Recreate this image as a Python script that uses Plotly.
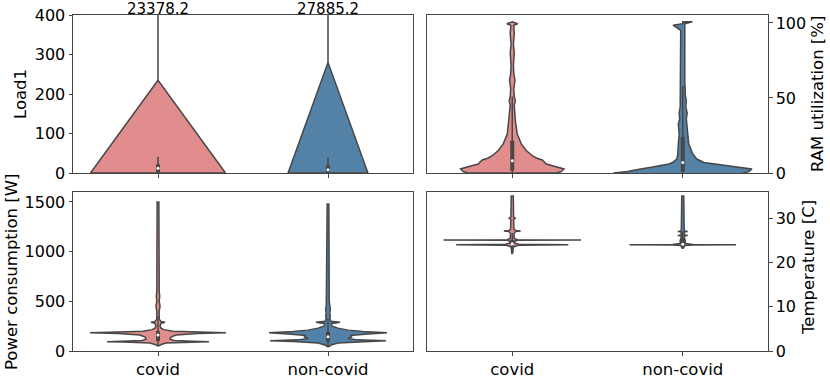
import numpy as np
import plotly.graph_objects as go

groups = ["covid", "non-covid"]
fill_colors = ["#E28D8D", "#5481A6"]
edge = "#474747"

# violin outlines: value -> half width (in category units)
load_y = [[0, 235, 23378.2], [0, 280, 27885.2]]
load_w = [[0.397, 0, 0], [0.235, 0, 0]]
load_max = [23378.2, 27885.2]

ram_y = [
    [0, 1, 2.7, 4, 6, 8.7, 10, 11.5, 15, 19.4, 26, 35, 41.5, 45, 48, 51, 56, 62, 66, 72, 80, 86, 93, 97, 98.5, 99.5, 100.8],
    [0, 1, 2.7, 4, 4.9, 6, 7, 9.3, 12.7, 19.4, 26, 32.8, 36, 40, 44, 48, 52, 55, 60, 70, 80, 90, 95, 98.5, 99.5, 100.8],
]
ram_w = [
    [0.259, 0.288, 0.303, 0.265, 0.2, 0.176, 0.141, 0.118, 0.082, 0.053, 0.029, 0.018, 0.015, 0.012, 0.018, 0.012,
     0.009, 0.016, 0.009, 0.007, 0.012, 0.007, 0.012, 0.009, 0.009, 0.032, 0],
    [0.353, 0.388, 0.406, 0.324, 0.247, 0.176, 0.124, 0.082, 0.059, 0.035, 0.029, 0.026, 0.021, 0.026, 0.018, 0.021,
     0.015, 0.015, 0.012, 0.012, 0.012, 0.012, 0.015, 0.012, 0.012, 0.057, 0],
]

power_y = [
    [50, 65, 80, 90, 94, 98, 105, 120, 140, 160, 175, 184, 190, 200, 215, 230, 250, 280, 289, 298, 320, 400, 450, 500,
     550, 600, 700, 800, 1000, 1500],
    [40, 60, 80, 95, 104, 112, 125, 140, 155, 170, 184, 195, 210, 230, 250, 275, 289, 300, 330, 350, 380, 420, 460,
     500, 700, 1000, 1300, 1480],
]
power_w = [
    [0.003, 0.018, 0.047, 0.206, 0.3, 0.206, 0.094, 0.071, 0.076, 0.106, 0.235, 0.4, 0.235, 0.088, 0.035, 0.018, 0.012,
     0.018, 0.041, 0.018, 0.007, 0.007, 0.012, 0.007, 0.01, 0.007, 0.007, 0.007, 0.005, 0.005],
    [0.003, 0.018, 0.059, 0.206, 0.341, 0.176, 0.118, 0.141, 0.129, 0.235, 0.347, 0.206, 0.118, 0.059, 0.024, 0.018,
     0.071, 0.018, 0.01, 0.014, 0.01, 0.014, 0.01, 0.007, 0.007, 0.007, 0.006, 0.005],
]

temp_y = [
    [22, 23.5, 23.9, 24.0, 24.1, 24.4, 24.8, 24.98, 25.06, 25.14, 25.4, 26.5, 27.0, 27.1, 27.2, 27.5, 29.7, 30, 30.3, 35],
    [23.2, 23.8, 23.93, 24.0, 24.07, 24.3, 25, 25.5, 26.0, 26.1, 26.2, 26.9, 27.0, 27.1, 28, 35],
]
temp_w = [
    [0.003, 0.006, 0.04, 0.329, 0.04, 0.012, 0.015, 0.03, 0.403, 0.03, 0.012, 0.01, 0.02, 0.049, 0.02, 0.01,
     0.008, 0.018, 0.008, 0.006],
    [0.003, 0.012, 0.06, 0.312, 0.06, 0.015, 0.015, 0.01, 0.01, 0.029, 0.01, 0.01, 0.029, 0.01, 0.008, 0.006],
]

# inner box: whisker low, q1, median, q3, whisker high
load_box = [[0, 2, 11.8, 22, 41], [0, 2, 8, 20, 39]]
ram_box = [[0, 1.5, 8.2, 21.5, 51], [0, 1, 7, 24, 58]]
power_box = [[50, 100, 160, 200, 350], [40, 95, 144, 195, 330]]
temp_box = [[22.5, 24, 24.2, 25.1, 26.6], [23.2, 24, 24.1, 25.5, 27]]

fig = go.Figure()


def add_violins(ys, ws, boxes, xa, ya):
    for i in range(2):
        y = np.array(ys[i], dtype=float)
        w = np.array(ws[i], dtype=float)
        xs = np.concatenate([i + w, (i - w)[::-1], [i + w[0]]])
        yy = np.concatenate([y, y[::-1], [y[0]]])
        fig.add_trace(go.Scatter(x=xs, y=yy, mode="lines", fill="toself", fillcolor=fill_colors[i],
                                 line=dict(color=edge, width=1.5), xaxis=xa, yaxis=ya,
                                 showlegend=False, hoverinfo="skip"))
        lo, q1, med, q3, hi = boxes[i]
        fig.add_trace(go.Scatter(x=[i, i], y=[lo, hi], mode="lines", line=dict(color=edge, width=1.5),
                                 xaxis=xa, yaxis=ya, showlegend=False, hoverinfo="skip"))
        fig.add_trace(go.Scatter(x=[i, i], y=[q1, q3], mode="lines", line=dict(color=edge, width=4),
                                 xaxis=xa, yaxis=ya, showlegend=False, hoverinfo="skip"))
        fig.add_trace(go.Scatter(x=[i], y=[med], mode="markers", marker=dict(color="white", size=3),
                                 xaxis=xa, yaxis=ya, showlegend=False, hoverinfo="skip"))


add_violins(load_y, load_w, load_box, "x", "y")
add_violins(ram_y, ram_w, ram_box, "x2", "y2")
add_violins(power_y, power_w, power_box, "x3", "y3")
add_violins(temp_y, temp_w, temp_box, "x4", "y4")

W, H = 830, 378
left_dom = [73 / W, 413 / W]
right_dom = [427 / W, 768 / W]
top_dom = [1 - 173 / H, 1 - 15 / H]
bot_dom = [1 - 351 / H, 1 - 192 / H]

num_font = dict(family="DejaVu Sans", size=16, color="black")
txt_font = dict(family="DejaVu Sans", size=16.5, color="black")
axis_common = dict(showline=True, mirror=True, linecolor="#444", linewidth=1, showgrid=False, zeroline=False,
                   ticks="outside", ticklen=3.5, tickwidth=1, tickcolor="#444", tickfont=num_font, automargin=False)
xcommon = dict(axis_common, range=[-0.5, 1.5], tickvals=[0, 1], ticktext=groups, tickfont=txt_font)

fig.update_layout(
    width=W, height=H, margin=dict(l=0, r=0, t=0, b=0, autoexpand=False),
    paper_bgcolor="white", plot_bgcolor="white", font=num_font,
    xaxis=dict(xcommon, domain=left_dom, anchor="y", showticklabels=False),
    yaxis=dict(axis_common, domain=top_dom, anchor="x", range=[0, 400], tickvals=[0, 100, 200, 300, 400]),
    xaxis2=dict(xcommon, domain=right_dom, anchor="y2", showticklabels=False),
    yaxis2=dict(axis_common, domain=top_dom, anchor="x2", side="right", range=[0, 105.3], tickvals=[0, 50, 100]),
    xaxis3=dict(xcommon, domain=left_dom, anchor="y3"),
    yaxis3=dict(axis_common, domain=bot_dom, anchor="x3", range=[0, 1600], tickvals=[0, 500, 1000, 1500]),
    xaxis4=dict(xcommon, domain=right_dom, anchor="y4"),
    yaxis4=dict(axis_common, domain=bot_dom, anchor="x4", side="right", range=[0, 35.9], tickvals=[0, 10, 20, 30]),
)

# max value labels above the Load1 violins
for i in range(2):
    fig.add_annotation(x=i, y=400, xref="x", yref="y", text=f"{load_max[i]:.1f}", showarrow=False,
                       yanchor="bottom", yshift=-5, font=dict(num_font, size=15))

titles = [("Load1", 21, 94), ("Power consumption [W]", 11, 272),
          ("RAM utilization [%]", 818, 94), ("Temperature [C]", 808, 268)]
for text, px, py in titles:
    fig.add_annotation(x=px / W, y=1 - py / H, xref="paper", yref="paper", text=text, showarrow=False,
                       textangle=-90, xanchor="center", yanchor="middle", font=txt_font)

# drop the default page margin so the figure sits at the window's corner
fig.write_html("out.html", config={"displayModeBar": False},
               post_script="document.body.style.margin='0';")
